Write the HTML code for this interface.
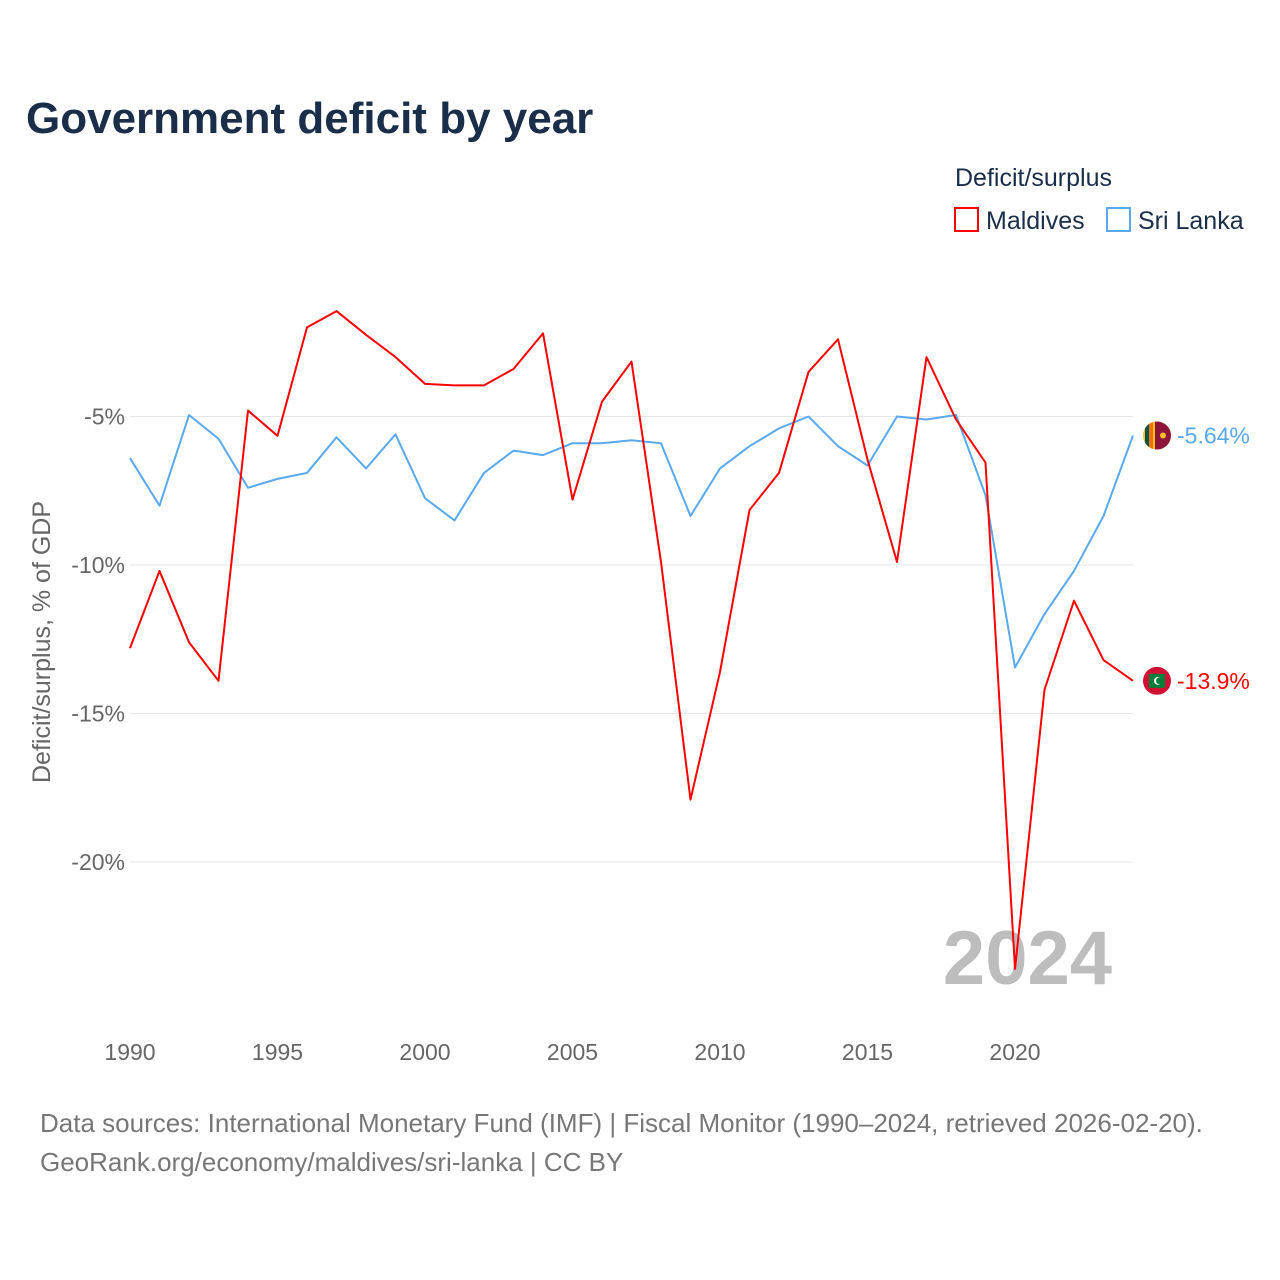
<!DOCTYPE html>
<html><head><meta charset="utf-8"><style>
body{margin:0;background:#fff;font-family:"Liberation Sans",sans-serif;}
#wrap{position:relative;width:1280px;height:1280px;overflow:hidden;}
</style></head><body>
<div id="wrap">
<svg id="chart" width="1280" height="1280" xmlns="http://www.w3.org/2000/svg">
<defs id="defs"></defs>
<text x="26" y="133" font-size="44" font-weight="bold" fill="#1a2e4a">Government deficit by year</text>
<text x="955" y="186" font-size="25" fill="#1a2e4a">Deficit/surplus</text>
<g><rect x="955" y="208" width="23" height="23" fill="none" stroke="#ff0000" stroke-width="2"/><text x="986" y="229" font-size="25" fill="#1a2e4a">Maldives</text></g>
<g><rect x="1107" y="208" width="23" height="23" fill="none" stroke="#5aa9ee" stroke-width="2"/><text x="1138" y="229" font-size="25" fill="#1a2e4a">Sri Lanka</text></g>
<text transform="translate(50,642) rotate(-90)" text-anchor="middle" font-size="25" fill="#666">Deficit/surplus, % of GDP</text>
<g id="grid"></g><g id="yticks"></g><g id="xticks"></g>
<text x="1112" y="984" text-anchor="end" font-size="76" font-weight="bold" fill="#bdbdbd">2024</text>
<g id="series"></g>
<text x="40" y="1132" font-size="26" fill="#777">Data sources: International Monetary Fund (IMF) | Fiscal Monitor (1990–2024, retrieved 2026-02-20).</text>
<text x="40" y="1171" font-size="26" fill="#777">GeoRank.org/economy/maldives/sri-lanka | CC BY</text>
</svg></div>
<script>
const years=[1990,1991,1992,1993,1994,1995,1996,1997,1998,1999,2000,2001,2002,2003,2004,2005,2006,2007,2008,2009,2010,2011,2012,2013,2014,2015,2016,2017,2018,2019,2020,2021,2022,2023,2024];
const maldives=[-12.8,-10.2,-12.6,-13.9,-4.8,-5.65,-2.0,-1.45,-2.25,-3.0,-3.9,-3.95,-3.95,-3.4,-2.2,-7.8,-4.5,-3.15,-9.9,-17.9,-13.6,-8.15,-6.9,-3.5,-2.4,-6.45,-9.9,-3.0,-5.1,-6.55,-23.6,-14.2,-11.2,-13.2,-13.9];
const srilanka=[-6.4,-8.0,-4.95,-5.75,-7.4,-7.1,-6.9,-5.7,-6.75,-5.6,-7.75,-8.5,-6.9,-6.15,-6.3,-5.9,-5.9,-5.8,-5.9,-8.35,-6.75,-6.0,-5.4,-5.0,-6.0,-6.65,-5.0,-5.1,-4.95,-7.65,-13.45,-11.65,-10.2,-8.35,-5.64];
const yTicks=[-5,-10,-15,-20];
const xTicks=[1990,1995,2000,2005,2010,2015,2020];
const NS="http://www.w3.org/2000/svg";
const x=v=>130+(v-1990)*(1133-130)/34;
const y=v=>268+(-v)*29.7;
function mk(t,a,p){const e=document.createElementNS(NS,t);for(const k in a)e.setAttribute(k,a[k]);document.getElementById(p).appendChild(e);return e;}
yTicks.forEach(t=>{
 const l=mk('line',{x1:130,x2:1133,y1:y(t),y2:y(t),stroke:'#e6e6e6','stroke-width':1},'grid');
 
 
 const tx=mk('text',{x:125,y:y(t)+8,'text-anchor':'end','font-size':23,fill:'#666'},'yticks');
 tx.textContent=t+'%';
 
 
});
xTicks.forEach(t=>{
 const tx=mk('text',{x:x(t),y:1060,'text-anchor':'middle','font-size':23,fill:'#666'},'xticks');
 tx.textContent=t;
 
 
});
function series(vals,col,name,lab){
 const p=mk('polyline',{points:vals.map((v,i)=>x(years[i])+','+y(v)).join(' '),fill:'none',stroke:col,'stroke-width':2,'stroke-linejoin':'round'},'series');
 
 
 const last=vals[vals.length-1],lx=x(years[years.length-1]),ly=y(last);
 const cp=mk('clipPath',{id:'clip-'+name},'defs');
 const cc=document.createElementNS(NS,'circle');cc.setAttribute('cx',lx+24);cc.setAttribute('cy',ly);cc.setAttribute('r',14);cp.appendChild(cc);
 const g=mk('g',{'clip-path':'url(#clip-'+name+')'},'series');
 
 
 const add=(t,a)=>{const e=document.createElementNS(NS,t);for(const k in a)e.setAttribute(k,a[k]);g.appendChild(e);return e;};
 if(name==='maldives'){
  add('rect',{x:lx+10,y:ly-14,width:28,height:28,fill:'#d21034'});
  add('rect',{x:lx+16,y:ly-7,width:16,height:14,fill:'#007e3a'});
  add('circle',{cx:lx+25,cy:ly,r:4,fill:'#fff'});
  add('circle',{cx:lx+26.5,cy:ly,r:3.5,fill:'#007e3a'});
 } else {
  add('rect',{x:lx+10,y:ly-14,width:28,height:28,fill:'#ffbe29'});
  add('rect',{x:lx+12,y:ly-14,width:4,height:28,fill:'#00534e'});
  add('rect',{x:lx+16,y:ly-14,width:4,height:28,fill:'#eb7400'});
  add('rect',{x:lx+22,y:ly-14,width:16,height:28,fill:'#8d153a'});
  add('circle',{cx:lx+30,cy:ly,r:3,fill:'#ffbe29'});
 }
 const t=mk('text',{x:lx+44,y:ly+8,'font-size':23,fill:col},'series');
 t.textContent=lab;
 
 
}
series(srilanka,'#5aa9ee','sri-lanka','-5.64%');
series(maldives,'#ff0000','maldives','-13.9%');
</script>
</body></html>
